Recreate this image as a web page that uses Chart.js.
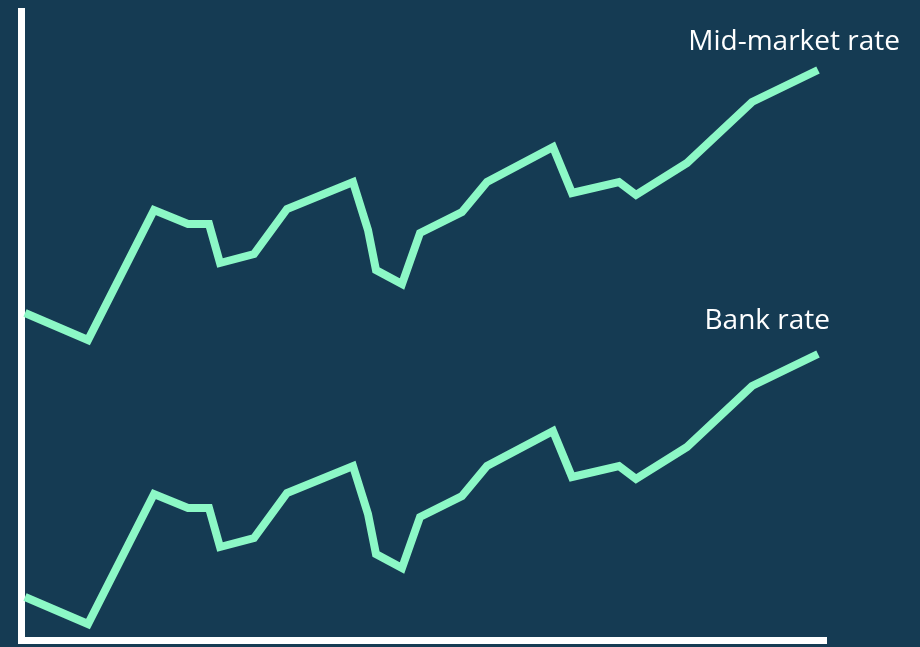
<!DOCTYPE html>
<html>
<head>
<meta charset="utf-8">
<script src="https://cdn.jsdelivr.net/npm/chart.js@4.4.1/dist/chart.umd.min.js"></script>
<style>
	html, body { margin:0; padding:0; background:#153b53; }
	#wrap { position:relative; width:920px; height:647px; }
</style>
</head>
<body>
<div id="wrap"><canvas id="chart" width="920" height="647"></canvas></div>
<script>
// x positions of the observations (arbitrary time units)
const xs = [4, 67, 133, 167, 188, 199, 233, 266, 332, 347, 355, 381, 399, 441, 466, 532, 551, 598, 615, 666, 731, 797];
// rates, arbitrary units
const midMarket = [327, 300, 430, 416, 416, 377, 386, 431, 458, 410, 370, 356, 407, 428, 458, 493, 447, 458, 445, 477, 538, 570];
const bankRate = [43, 16, 146, 132, 132, 93, 102, 147, 174, 126, 86, 72, 123, 144, 174, 209, 163, 174, 161, 193, 254, 286];
const seriesNames = ['Mid-market rate', 'Bank rate'];

let lineColor = '#8cf8c6';
let bg = '#153b53';

function toPoints(vals){
	return vals.map((v, i) => ({x: xs[i], y: v}));
}

// draws the series name near the end of each line
const endLabels = {
	id: 'endLabels',
	afterDatasetsDraw(chart) {
		const ctx = chart.ctx;
		const offs = [[82, -28], [12, -33]];
		ctx.save();
		ctx.fillStyle = '#ffffff';
		ctx.font = '28px "Open Sans", Lato, sans-serif';
		ctx.textAlign = 'right';
		ctx.textBaseline = 'middle';
		chart.data.datasets.forEach((ds, i) => {
			const pts = chart.getDatasetMeta(i).data;
			const last = pts[pts.length - 1];
			ctx.fillText(ds.label, last.x + offs[i][0], last.y + offs[i][1]);
		});
		ctx.restore();
	}
};

const bgPlugin = {
	id: 'bg',
	beforeDraw(chart) {
		const ctx = chart.ctx;
		ctx.save();
		ctx.fillStyle = bg;
		ctx.fillRect(0, 0, chart.width, chart.height);
		ctx.restore();
	}
};

const data = {
	datasets: [
		{ label: seriesNames[0], data: toPoints(midMarket) },
		{ label: seriesNames[1], data: toPoints(bankRate) }
	].map(d => Object.assign(d, {
		borderColor: lineColor,
		borderWidth: 8,
		pointRadius: 0,
		tension: 0,
		fill: false,
		borderJoinStyle: 'miter',
		borderCapStyle: 'butt'
	}))
};

new Chart(document.getElementById('chart'), {
	type: 'line',
	data,
	options: {
		responsive: false,
		animation: false,
		layout: { padding: { left: 21, top: 11, right: 94, bottom: 7 } },
		plugins: { legend: { display: false }, tooltip: { enabled: false } },
		scales: {
			x: {
				type: 'linear', min: 0, max: 805,
				grid: { display: false, drawTicks: false },
				ticks: { display: false },
				border: { display: true, color: '#ffffff', width: 7 }
			},
			y: {
				min: 0, max: 629,
				grid: { display: false, drawTicks: false },
				ticks: { display: false },
				border: { display: true, color: '#ffffff', width: 7 }
			}
		}
	},
	plugins: [bgPlugin, endLabels]
});
</script>
</body>
</html>
